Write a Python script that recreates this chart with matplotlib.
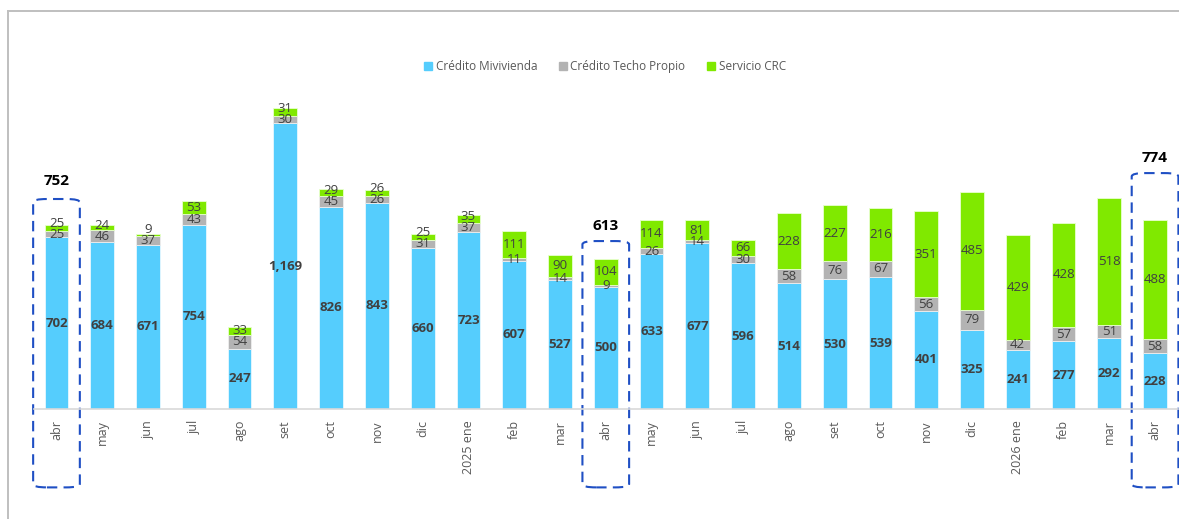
import numpy as np
import matplotlib.pyplot as plt
from matplotlib.patches import FancyBboxPatch, Patch
from matplotlib.lines import Line2D

# monthly values, abr 2024 .. abr 2026
meses = ["abr", "may", "jun", "jul", "ago", "set", "oct", "nov", "dic", "2025 ene",
         "feb", "mar", "abr", "may", "jun", "jul", "ago", "set", "oct", "nov",
         "dic", "2026 ene", "feb", "mar", "abr"]
mivivienda = [702, 684, 671, 754, 247, 1169, 826, 843, 660, 723, 607, 527, 500,
              633, 677, 596, 514, 530, 539, 401, 325, 241, 277, 292, 228]
techo_propio = [25, 46, 37, 43, 54, 30, 45, 26, 31, 37, 11, 14, 9,
                26, 14, 30, 58, 76, 67, 56, 79, 42, 57, 51, 58]
servicio_crc = [25, 24, 9, 53, 33, 31, 29, 26, 25, 35, 111, 90, 104,
                114, 81, 66, 228, 227, 216, 351, 485, 429, 428, 518, 488]

# highlighted months (index, box top, total label height)
destacados = [0, 12, 24]
caja_top = [859, 687, 965]
total_y = [932, 748, 1027]

c_azul = "#55CDFD"
c_gris = "#B3B3B3"
c_verde = "#80E900"
c_txt = "#404040"

plt.rcParams["font.family"] = ["Open Sans", "DejaVu Sans"]

fig = plt.figure(figsize=(11.79, 5.19), dpi=100)
ax = fig.add_axes([0.0285, 0.212, 0.9706, 0.7538])

x = np.arange(len(meses))
mv = np.array(mivivienda)
tp = np.array(techo_propio)
sc = np.array(servicio_crc)
w = 0.52

ax.bar(x, mv, w, color=c_azul, edgecolor="#E6F7FF", linewidth=0.6)
ax.bar(x, tp, w, bottom=mv, color=c_gris, edgecolor="#EEEEEE", linewidth=0.6)
ax.bar(x, sc, w, bottom=mv + tp, color=c_verde, edgecolor="#E8FFD0", linewidth=0.6)

for i in x:
    ax.text(i, mv[i] / 2, f"{mv[i]:,}", ha="center", va="center", fontsize=9.5,
            fontweight="bold", color=c_txt)
    yg = mv[i] + tp[i] / 2
    ax.text(i, yg, str(tp[i]), ha="center", va="center", fontsize=9.5, color=c_txt)
    yv = max(mv[i] + tp[i] + sc[i] / 2, yg + 45)
    ax.text(i, yv, str(sc[i]), ha="center", va="center", fontsize=9.5, color=c_txt)

for k, i in enumerate(destacados):
    total = mv[i] + tp[i] + sc[i]
    ax.text(i, total_y[k], f"{total}", ha="center", va="center", fontsize=11,
            fontweight="bold", color="black")
    box = FancyBboxPatch((i - 0.45, -318), 0.9, caja_top[k] + 318 - 3,
                         boxstyle="round,pad=0.06,rounding_size=0.3",
                         mutation_aspect=45, fill=False, edgecolor="#1F4FC4",
                         linewidth=1.5, linestyle=(0, (5, 3)), clip_on=False)
    ax.add_patch(box)

ax.set_xlim(-0.5, len(meses) - 0.5)
ax.set_ylim(0, 1600)
ax.set_xticks(x)
ax.set_xticklabels(meses, rotation=90, fontsize=9, color="#595959")
ax.tick_params(axis="x", length=0, pad=8)
ax.set_yticks([])
for s in ["left", "right", "top"]:
    ax.spines[s].set_visible(False)
ax.spines["bottom"].set_color("#D9D9D9")
ax.spines["bottom"].set_linewidth(1.2)

handles = [Patch(color=c_azul), Patch(color=c_gris), Patch(color=c_verde)]
fig.legend(handles, ["Crédito Mivivienda", "Crédito Techo Propio", "Servicio CRC"],
           loc="center", bbox_to_anchor=(0.513, 0.871), ncol=3, frameon=False,
           fontsize=8.5, labelcolor="#595959", handlelength=0.7, handleheight=0.7,
           handletextpad=0.3, columnspacing=1.8)

# outer frame (top and left)
fig.add_artist(Line2D([8 / 1179, 1], [1 - 11 / 519, 1 - 11 / 519],
                      color="#BFBFBF", linewidth=1.4))
fig.add_artist(Line2D([8 / 1179, 8 / 1179], [0, 1 - 11 / 519],
                      color="#BFBFBF", linewidth=1.4))

fig.savefig("out.png", dpi=100)
